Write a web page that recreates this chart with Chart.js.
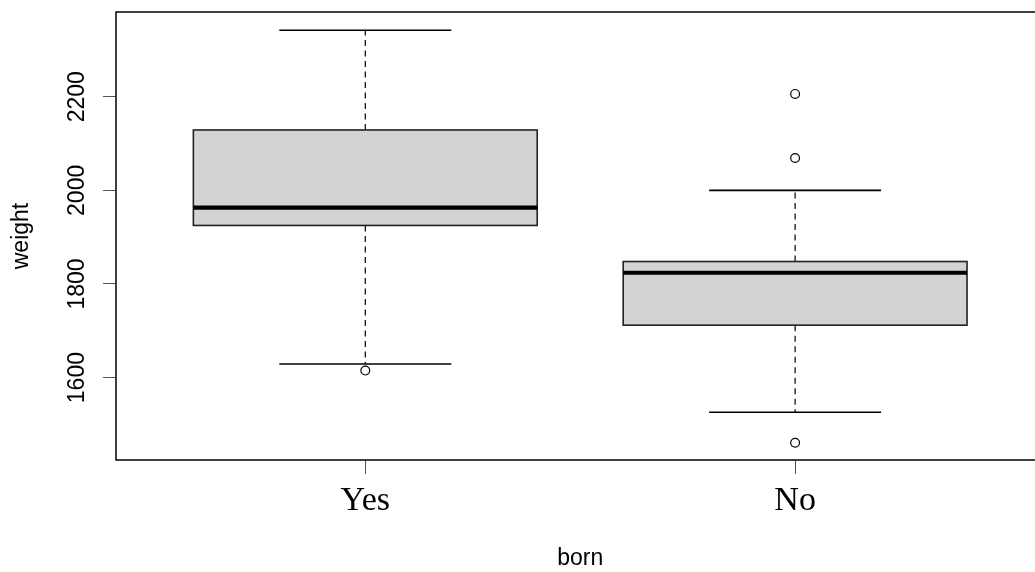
<!DOCTYPE html>
<html>
<head>
<meta charset="utf-8">
<script src="https://cdn.jsdelivr.net/npm/chart.js@4/dist/chart.umd.min.js"></script>
<style>
  html, body { margin: 0; padding: 0; background: #fff; overflow: hidden; width: 1035px; height: 572px; }
  canvas { display: block; }
</style>
</head>
<body>
<canvas id="c" width="1050" height="572"></canvas>
<script>
// ---- data ----
const categories   = ['Yes', 'No'];
const whiskerLow   = [1629, 1526];
const quartile1    = [1925, 1712];
const medians      = [1963, 1824];
const quartile3    = [2129, 1848];
const whiskerHigh  = [2342, 2000];
const outliersYes  = [1615];
const outliersNo   = [2206, 2069, 1461];
const yTickValues  = [1600, 1800, 2000, 2200];
const xAxisTitle   = 'born';
const yAxisTitle   = 'weight';

const outlierPoints = [
  ...outliersYes.map(v => ({ x: 1, y: v })),
  ...outliersNo.map(v => ({ x: 2, y: v }))
];

const SANS = "'Liberation Sans', Arial, sans-serif";
const SERIF = "'Liberation Serif', 'Times New Roman', serif";

function zeroPad(s) { s.paddingLeft = 0; s.paddingRight = 0; s.paddingTop = 0; s.paddingBottom = 0; }

const boxPlugin = {
  id: 'boxes',
  beforeDatasetsDraw(chart) {
    const ctx = chart.ctx;
    const xs = chart.scales.x, ys = chart.scales.y;
    ctx.save();
    categories.forEach((c, i) => {
      const cx = xs.getPixelForValue(i + 1);
      const half = xs.getPixelForValue(i + 1 + 0.4) - cx;
      const capHalf = half / 2;
      const pLo = ys.getPixelForValue(whiskerLow[i]);
      const pQ1 = ys.getPixelForValue(quartile1[i]);
      const pMed = ys.getPixelForValue(medians[i]);
      const pQ3 = ys.getPixelForValue(quartile3[i]);
      const pHi = ys.getPixelForValue(whiskerHigh[i]);
      // dashed whiskers
      ctx.strokeStyle = '#000';
      ctx.lineWidth = 1.2;
      ctx.setLineDash([6, 4.5]);
      ctx.beginPath();
      ctx.moveTo(cx, pQ3); ctx.lineTo(cx, pHi);
      ctx.moveTo(cx, pQ1); ctx.lineTo(cx, pLo);
      ctx.stroke();
      ctx.setLineDash([]);
      // box
      ctx.fillStyle = '#d3d3d3';
      ctx.fillRect(cx - half, pQ3, 2 * half, pQ1 - pQ3);
      ctx.strokeStyle = '#222';
      ctx.lineWidth = 1.6;
      ctx.strokeRect(cx - half, pQ3, 2 * half, pQ1 - pQ3);
      // median
      ctx.strokeStyle = '#000';
      ctx.lineWidth = 4.2;
      ctx.beginPath();
      ctx.moveTo(cx - half, pMed); ctx.lineTo(cx + half, pMed);
      ctx.stroke();
      // whisker caps
      ctx.lineWidth = 1.6;
      ctx.beginPath();
      ctx.moveTo(cx - capHalf, pHi); ctx.lineTo(cx + capHalf, pHi);
      ctx.moveTo(cx - capHalf, pLo); ctx.lineTo(cx + capHalf, pLo);
      ctx.stroke();
    });
    ctx.restore();
  },
  afterDraw(chart) {
    const { ctx, chartArea: a } = chart;
    ctx.save();
    ctx.strokeStyle = '#111';
    ctx.lineWidth = 1.6;
    ctx.strokeRect(a.left, a.top, a.right - a.left, a.bottom - a.top);
    ctx.restore();
  }
};

new Chart(document.getElementById('c'), {
  type: 'scatter',
  data: {
    datasets: [{
      data: outlierPoints,
      pointStyle: 'circle',
      pointRadius: 4.4,
      pointBorderWidth: 1.2,
      pointBorderColor: '#000',
      pointBackgroundColor: 'rgba(0,0,0,0)'
    }]
  },
  options: {
    responsive: false,
    animation: false,
    devicePixelRatio: 1,
    layout: { padding: { left: 0, top: 12, right: 0, bottom: 0 } },
    plugins: { legend: { display: false }, tooltip: { enabled: false } },
    scales: {
      x: {
        type: 'linear',
        min: 0.42,
        max: 2.58,
        afterBuildTicks: s => { s.ticks = categories.map((c, i) => ({ value: i + 1 })); },
        afterFit: s => { s.height = 112; zeroPad(s); },
        grid: { drawOnChartArea: false, drawTicks: true, tickLength: 14, color: '#555', lineWidth: 1 },
        border: { display: false },
        ticks: {
          autoSkip: false,
          maxRotation: 0,
          padding: 7,
          color: '#000',
          font: { family: SERIF, size: 34 },
          callback: v => categories[v - 1]
        },
        title: {
          display: true,
          text: xAxisTitle,
          color: '#000',
          font: { family: SANS, size: 23 },
          padding: { top: 0, bottom: 0 }
        }
      },
      y: {
        type: 'linear',
        min: 1424,
        max: 2381,
        afterBuildTicks: s => { s.ticks = yTickValues.map(v => ({ value: v })); },
        afterFit: s => { s.width = 116; zeroPad(s); },
        grid: { drawOnChartArea: false, drawTicks: true, tickLength: 13, color: '#555', lineWidth: 1 },
        border: { display: false },
        ticks: {
          minRotation: 90,
          maxRotation: 90,
          crossAlign: 'center',
          padding: 0,
          color: '#000',
          font: { family: SANS, size: 23 },
          callback: v => String(v)
        },
        title: {
          display: true,
          text: yAxisTitle,
          color: '#000',
          font: { family: SANS, size: 23 },
          padding: { top: 8, bottom: 0 }
        }
      }
    }
  },
  plugins: [boxPlugin]
});
</script>
</body>
</html>
